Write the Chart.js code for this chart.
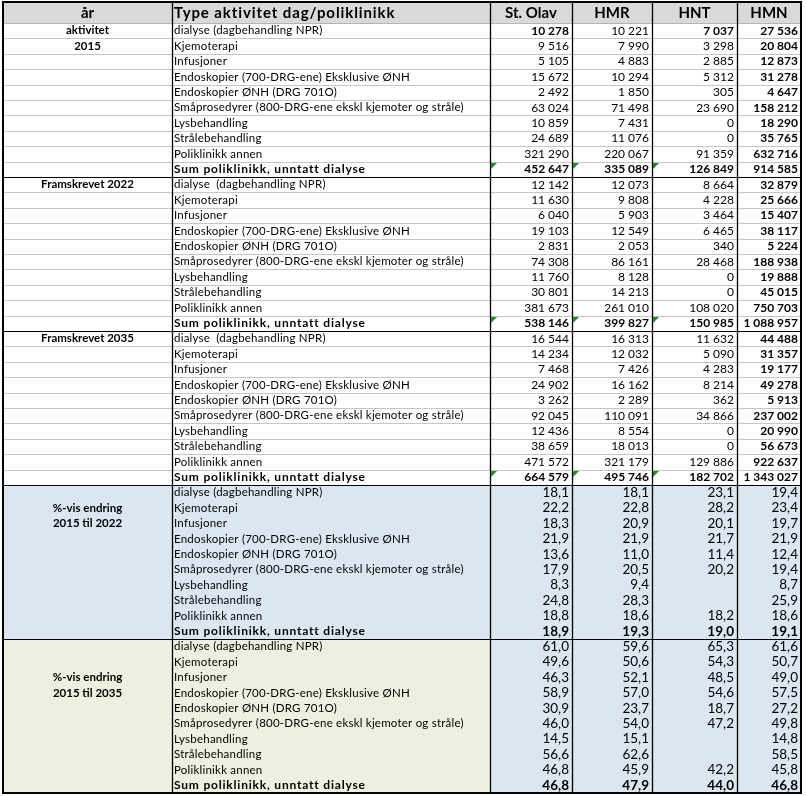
<!DOCTYPE html>
<html>
<head>
<meta charset="utf-8">
<script src="https://cdn.jsdelivr.net/npm/chart.js@4.4.1/dist/chart.umd.min.js"></script>
<style>
  html, body { margin: 0; padding: 0; background: #fff; }
</style>
</head>
<body>
<canvas id="myChart" width="806" height="796"></canvas>
<script>
// ---- data ----
const hospitals = ['St. Olav', 'HMR', 'HNT', 'HMN'];
const activities = [
  'dialyse (dagbehandling NPR)',
  'Kjemoterapi',
  'Infusjoner',
  'Endoskopier (700-DRG-ene) Eksklusive ØNH',
  'Endoskopier ØNH (DRG 701O)',
  'Småprosedyrer (800-DRG-ene ekskl kjemoter og stråle)',
  'Lysbehandling',
  'Strålebehandling',
  'Poliklinikk annen',
  'Sum poliklinikk, unntatt dialyse'
];
const groupLabels = [
  ['aktivitet', '2015'],
  ['Framskrevet 2022'],
  ['Framskrevet 2035'],
  ['', '%-vis endring', '2015 til 2022'],
  ['', '', '%-vis endring', '2015 til 2035']
];

// activity 2015
const stOlav2015 = [10278, 9516, 5105, 15672, 2492, 63024, 10859, 24689, 321290, 452647];
const hmr2015    = [10221, 7990, 4883, 10294, 1850, 71498, 7431, 11076, 220067, 335089];
const hnt2015    = [7037, 3298, 2885, 5312, 305, 23690, 0, 0, 91359, 126849];
const hmn2015    = [27536, 20804, 12873, 31278, 4647, 158212, 18290, 35765, 632716, 914585];

// projected 2022
const stOlav2022 = [12142, 11630, 6040, 19103, 2831, 74308, 11760, 30801, 381673, 538146];
const hmr2022    = [12073, 9808, 5903, 12549, 2053, 86161, 8128, 14213, 261010, 399827];
const hnt2022    = [8664, 4228, 3464, 6465, 340, 28468, 0, 0, 108020, 150985];
const hmn2022    = [32879, 25666, 15407, 38117, 5224, 188938, 19888, 45015, 750703, 1088957];

// projected 2035
const stOlav2035 = [16544, 14234, 7468, 24902, 3262, 92045, 12436, 38659, 471572, 664579];
const hmr2035    = [16313, 12032, 7426, 16162, 2289, 110091, 8554, 18013, 321179, 495746];
const hnt2035    = [11632, 5090, 4283, 8214, 362, 34866, 0, 0, 129886, 182702];
const hmn2035    = [44488, 31357, 19177, 49278, 5913, 237002, 20990, 56673, 922637, 1343027];

// % change 2015-2022
const stOlavPct22 = [18.1, 22.2, 18.3, 21.9, 13.6, 17.9, 8.3, 24.8, 18.8, 18.9];
const hmrPct22    = [18.1, 22.8, 20.9, 21.9, 11.0, 20.5, 9.4, 28.3, 18.6, 19.3];
const hntPct22    = [23.1, 28.2, 20.1, 21.7, 11.4, 20.2, null, null, 18.2, 19.0];
const hmnPct22    = [19.4, 23.4, 19.7, 21.9, 12.4, 19.4, 8.7, 25.9, 18.6, 19.1];

// % change 2015-2035
const stOlavPct35 = [61.0, 49.6, 46.3, 58.9, 30.9, 46.0, 14.5, 56.6, 46.8, 46.8];
const hmrPct35    = [59.6, 50.6, 52.1, 57.0, 23.7, 54.0, 15.1, 62.6, 45.9, 47.9];
const hntPct35    = [65.3, 54.3, 48.5, 54.6, 18.7, 47.2, null, null, 42.2, 44.0];
const hmnPct35    = [61.6, 50.7, 49.0, 57.5, 27.2, 49.8, 14.8, 58.5, 45.8, 46.8];

const groups = [
  { cols: [stOlav2015, hmr2015, hnt2015, hmn2015], pct: false },
  { cols: [stOlav2022, hmr2022, hnt2022, hmn2022], pct: false },
  { cols: [stOlav2035, hmr2035, hnt2035, hmn2035], pct: false },
  { cols: [stOlavPct22, hmrPct22, hntPct22, hmnPct22], pct: true },
  { cols: [stOlavPct35, hmrPct35, hntPct35, hmnPct35], pct: true }
];

// ---- layout ----
const colEdges = [0, 169, 487, 569, 649, 734, 798];
const headerH = 1.36;
const FONT = 'Lato, "Open Sans", sans-serif';

function fmtInt(v) {
  return String(v).replace(/\B(?=(\d{3})+(?!\d))/g, ' ');
}
function fmtPct(v) {
  return v === null ? '' : v.toFixed(1).replace('.', ',');
}

const tablePlugin = {
  id: 'tablePlugin',
  afterDraw(chart) {
    const ctx = chart.ctx;
    const xs = chart.scales.x, ys = chart.scales.y;
    const X = v => xs.getPixelForValue(v);
    const Y = v => ys.getPixelForValue(v);
    const nRows = groups.length * activities.length;

    function rect(c0, c1, r0, r1, color) {
      ctx.fillStyle = color;
      ctx.fillRect(X(colEdges[c0]), Y(r0), X(colEdges[c1]) - X(colEdges[c0]), Y(r1) - Y(r0));
    }
    function hline(r, color, w) {
      const y = Math.round(Y(r)) + 0.5;
      ctx.strokeStyle = color; ctx.lineWidth = w;
      ctx.beginPath(); ctx.moveTo(X(colEdges[0]), y); ctx.lineTo(X(colEdges[6]), y); ctx.stroke();
    }

    ctx.save();
    // backgrounds
    rect(0, 6, -headerH, 0, '#d9d9d9');
    rect(0, 6, 30, 40, '#dce6f1');
    rect(0, 2, 40, 50, '#ebf1de');
    rect(2, 6, 40, 50, '#dce6f1');

    // row lines in the first three groups
    for (let g = 0; g < 3; g++) {
      for (let r = 1; r < activities.length; r++) hline(g * 10 + r, '#c6c6c6', 1);
    }
    hline(0, '#b4b4b4', 1);
    for (let g = 1; g < groups.length; g++) hline(g * 10, '#000', 1);

    // column lines
    ctx.strokeStyle = '#000'; ctx.lineWidth = 1.3;
    for (let c = 1; c < colEdges.length - 1; c++) {
      const x = Math.round(X(colEdges[c])) + 0.5;
      ctx.beginPath(); ctx.moveTo(x, Y(-headerH)); ctx.lineTo(x, Y(nRows)); ctx.stroke();
    }
    // outer border
    ctx.lineWidth = 2;
    ctx.strokeRect(X(colEdges[0]), Y(-headerH), X(colEdges[6]) - X(colEdges[0]), Y(nRows) - Y(-headerH));

    // header text
    ctx.fillStyle = '#000';
    ctx.textBaseline = 'middle';
    const hy = Y(-headerH / 2) + 1;
    ctx.font = 'bold 15px ' + FONT;
    ctx.textAlign = 'center';
    ctx.letterSpacing = '0px';
    ctx.fillText('år', (X(colEdges[0]) + X(colEdges[1])) / 2, hy);
    hospitals.forEach((h, i) => {
      ctx.fillText(h, (X(colEdges[i + 2]) + X(colEdges[i + 3])) / 2, hy);
    });
    ctx.textAlign = 'left';
    ctx.letterSpacing = '0.9px';
    ctx.fillText('Type aktivitet dag/poliklinikk', X(colEdges[1]) + 2, hy);

    // body
    groups.forEach((grp, g) => {
      // group label
      ctx.font = 'bold 11.5px ' + FONT;
      ctx.letterSpacing = '0px';
      ctx.textAlign = 'center';
      groupLabels[g].forEach((t, k) => {
        if (t) ctx.fillText(t, (X(colEdges[0]) + X(colEdges[1])) / 2, Y(g * 10 + k + 0.5));
      });
      activities.forEach((a, r) => {
        const row = g * 10 + r;
        const yc = Y(row + 0.5);
        const isSum = r === activities.length - 1;
        ctx.textAlign = 'left';
        ctx.font = (isSum ? 'bold 12px ' : '11.5px ') + FONT;
        ctx.letterSpacing = isSum ? '0.8px' : '0.22px';
        let label = a;
        if ((g === 1 || g === 2) && r === 0) label = 'dialyse  (dagbehandling NPR)';
        ctx.fillText(label, X(colEdges[1]) + 2, yc);

        ctx.textAlign = 'right';
        ctx.letterSpacing = '0px';
        grp.cols.forEach((col, c) => {
          const v = col[r];
          let bold = isSum;
          if (!grp.pct && c === 3) bold = true;
          if (g === 0 && r === 0 && (c === 0 || c === 2)) bold = true;
          const size = grp.pct ? 13.5 : 12;
          ctx.font = (bold ? 'bold ' : '') + size + 'px ' + FONT;
          const txt = grp.pct ? fmtPct(v) : fmtInt(v);
          ctx.fillText(txt, X(colEdges[c + 3]) - 3, yc);
        });

        // green error-indicator triangles on the sum rows
        if (!grp.pct && isSum) {
          ctx.fillStyle = '#218a21';
          for (let c = 2; c < 5; c++) {
            const x0 = Math.round(X(colEdges[c])) + 1, y0 = Math.round(Y(row)) + 1;
            ctx.beginPath();
            ctx.moveTo(x0, y0); ctx.lineTo(x0 + 6, y0); ctx.lineTo(x0, y0 + 6);
            ctx.closePath(); ctx.fill();
          }
          ctx.fillStyle = '#000';
        }
      });
    });
    ctx.restore();
  }
};

new Chart(document.getElementById('myChart'), {
  type: 'scatter',
  data: { datasets: [] },
  options: {
    responsive: false,
    animation: false,
    devicePixelRatio: 1,
    layout: { padding: { left: 3, right: 5, top: 2, bottom: 3 } },
    plugins: { legend: { display: false }, tooltip: { enabled: false } },
    scales: {
      x: { type: 'linear', min: colEdges[0], max: colEdges[colEdges.length - 1], display: false },
      y: { type: 'linear', min: -headerH, max: 50, reverse: true, display: false }
    }
  },
  plugins: [tablePlugin]
});
</script>
</body>
</html>
